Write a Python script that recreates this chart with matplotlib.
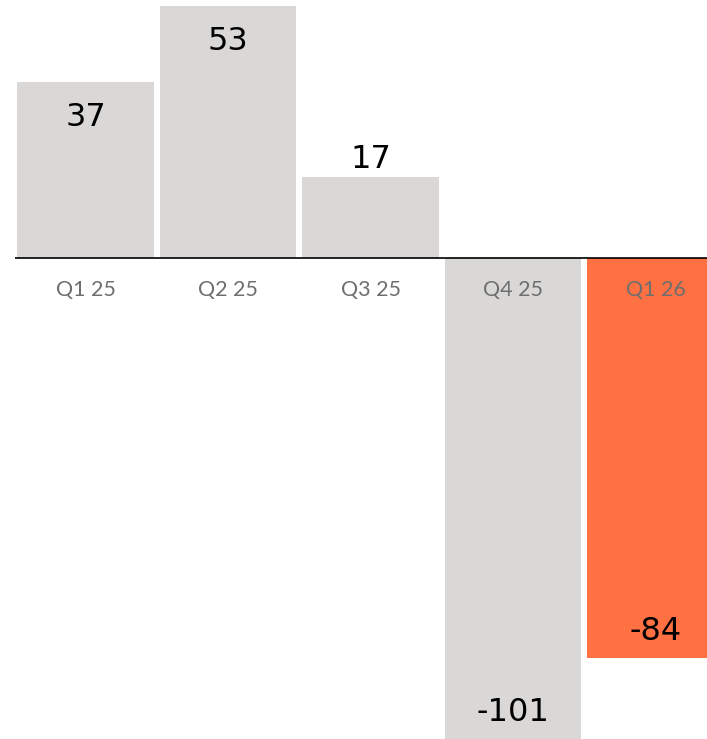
import matplotlib
matplotlib.use('Agg')
import matplotlib.pyplot as plt

quarters = ['Q1 25', 'Q2 25', 'Q3 25', 'Q4 25', 'Q1 26']
values = [37, 53, 17, -101, -84]
bar_colors = ['#d9d8d7', '#d9d8d7', '#d9d8d7', '#d9d8d7', '#ff7043']

fig = plt.figure(figsize=(7.07, 7.39), dpi=100)
ax = fig.add_axes([0, 0, 1, 1])

x = list(range(len(values)))
ax.bar(x, values, width=0.961, color=bar_colors, zorder=1)

# x range in data units from pixel layout (bar pitch ~142.5 px, first centre at 85.5 px)
ax.set_xlim(-85.5 / 142.5, (707 - 85.5) / 142.5)
ax.set_ylim(-101, 54.2)
ax.hlines(0, -0.495, 10, color='black', linewidth=1.2, zorder=3)
ax.axis('off')

for xi, v, q in zip(x, values, quarters):
    if v > 0:
        # short bars get their label above the bar
        off = -25.5 if v > 25 else 12.5
    else:
        off = 19
    ax.annotate(str(v), (xi, v), xytext=(0, off), textcoords='offset points',
                ha='center', va='center', fontsize=23, family='DejaVu Sans',
                color='black', zorder=4)
    ax.annotate(q, (xi, 0), xytext=(0, -23), textcoords='offset points',
                ha='center', va='center', fontsize=15.5, family='Lato',
                color='#6e6e6e', zorder=4)

fig.savefig('out.png', dpi=100)
